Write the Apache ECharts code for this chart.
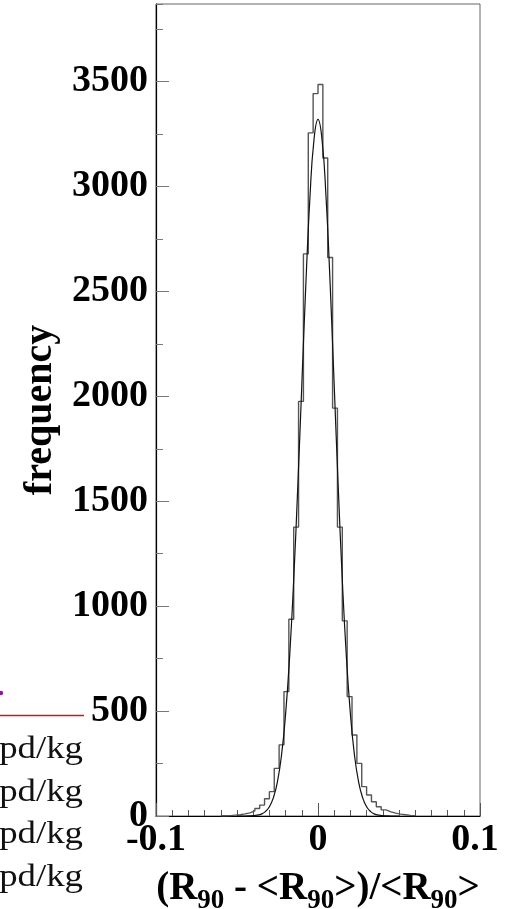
<!DOCTYPE html>
<html>
<head>
<meta charset="utf-8">
<script src="https://cdn.jsdelivr.net/npm/echarts@6/dist/echarts.min.js"></script>
<style>
  html, body { margin: 0; padding: 0; background: #ffffff; }
  #chart { width: 506px; height: 909px; }
</style>
</head>
<body>
<div id="chart"></div>
<script>
// Histogram of relative R90 deviation: bins of width 0.003 starting at -0.06
const binStart = -0.06;
const binWidth = 0.003;
const counts = [
  1, 2, 4, 6, 10, 15, 24, 36, 52, 82,
  116, 227, 339, 593, 938, 1377, 1976, 2679, 3256, 3443,
  3486, 3136, 2662, 1944, 1377, 930, 569, 386, 251, 140,
  100, 68, 44, 29, 20, 14, 9, 6, 3, 2
];

// Gaussian fit curve, sampled points
const fitX = [
  -0.05, -0.0475, -0.045, -0.0425, -0.04, -0.0375, -0.035, -0.0325, -0.03, -0.0275,
  -0.025, -0.0225, -0.02, -0.0175, -0.015, -0.0125, -0.01, -0.0075, -0.005, -0.0025,
  0,
  0.0025, 0.005, 0.0075, 0.01, 0.0125, 0.015, 0.0175, 0.02, 0.0225, 0.025,
  0.0275, 0.03, 0.0325, 0.035, 0.0375, 0.04, 0.0425, 0.045, 0.0475, 0.05
];
const fitY = [
  0, 0, 0, 0.5, 1.5, 4, 9, 21, 44, 88,
  165, 291, 486, 762, 1126, 1567, 2053, 2534, 2944, 3222,
  3320,
  3222, 2944, 2534, 2053, 1567, 1126, 762, 486, 291, 165,
  88, 44, 21, 9, 4, 1.5, 0.5, 0, 0, 0
];

// Axis ranges and tick spacing
const xRange = [-0.1, 0.1];
const xMajor = 0.1;
const yRange = [0, 3870];
const yMajor = 500;
const yMinor = 250;

// Labels of the neighbouring panel's legend, clipped at the left edge
const sideLabels = ['pd/kg', 'pd/kg', 'pd/kg', 'pd/kg'];

const histData = [];
for (let i = 0; i <= counts.length; i++) {
  const v = i < counts.length ? counts[i] : counts[counts.length - 1];
  histData.push([binStart + i * binWidth, v]);
}
const fitData = fitX.map((x, i) => [x, fitY[i]]);

const serif = "'Liberation Serif', 'DejaVu Serif', serif";

const chart = echarts.init(document.getElementById('chart'), null, { renderer: 'canvas' });

const sideRows = [750, 793, 835, 878];
const sideGraphics = sideLabels.map((t, i) => ({
  type: 'text',
  x: 83,
  y: sideRows[i],
  scaleX: 1.15,
  style: {
    text: t,
    fill: '#111',
    font: "32px " + serif,
    textAlign: 'right',
    textVerticalAlign: 'middle'
  }
}));

// Title text styles: main glyphs and lowered "90" subscripts
const titleMain = {
  fontFamily: serif,
  fontWeight: 'bold',
  fontSize: 39,
  lineHeight: 38,
  color: '#000'
};
const titleSub = {
  fontFamily: serif,
  fontWeight: 'bold',
  fontSize: 27,
  lineHeight: 26,
  padding: [24, 0, 0, 0],
  color: '#000'
};

chart.setOption({
  animation: false,
  backgroundColor: '#ffffff',
  grid: {
    left: 156, right: 26, top: 4, bottom: 93,
    show: true,
    borderColor: '#666',
    borderWidth: 1,
    backgroundColor: 'transparent',
    containLabel: false,
    outerBoundsMode: 'none'
  },
  graphic: [
    ...sideGraphics,
    {
      type: 'line',
      shape: { x1: 0, y1: 715.5, x2: 84, y2: 715.5 },
      style: { stroke: '#d21414', lineWidth: 1.5 }
    },
    {
      type: 'circle',
      shape: { cx: 1, cy: 693, r: 2.2 },
      style: { fill: '#8a1aa0' }
    }
  ],
  xAxis: {
    type: 'value',
    min: xRange[0],
    max: xRange[1],
    interval: xMajor,
    name: '{m|(R}{s|90}{m| - <R}{s|90}{m|>)/<R}{s|90}{m|>}',
    nameLocation: 'middle',
    nameGap: 42,
    nameTextStyle: {
      fontFamily: serif,
      fontWeight: 'bold',
      fontSize: 39,
      color: '#000',
      rich: { m: titleMain, s: titleSub }
    },
    axisLine: { show: true, onZero: false, lineStyle: { color: '#000', width: 1.2 } },
    axisTick: { show: true, inside: true, length: 13, lineStyle: { color: '#555', width: 1 } },
    minorTick: { show: true, splitNumber: 10, length: 6, lineStyle: { color: '#555', width: 1 } },
    splitLine: { show: false },
    minorSplitLine: { show: false },
    axisLabel: {
      margin: 5,
      hideOverlap: false,
      fontFamily: serif,
      fontWeight: 'bold',
      fontSize: 38,
      color: '#000',
      formatter: function (v) {
        if (Math.abs(v) < 1e-9) return '0';
        const s = String(+v.toFixed(1));
        return v > 0 ? '{r|' + s + '}' : s;
      },
      rich: {
        r: {
          fontFamily: serif,
          fontWeight: 'bold',
          fontSize: 38,
          color: '#000',
          padding: [0, 10, 0, 0]
        }
      }
    }
  },
  yAxis: [
    {
      type: 'value',
      min: yRange[0],
      max: yRange[1],
      interval: yMajor,
      name: 'frequency',
      nameLocation: 'middle',
      nameGap: 92,
      nameTextStyle: {
        fontFamily: serif,
        fontWeight: 'bold',
        fontSize: 40,
        color: '#000'
      },
      axisLine: { show: true, onZero: false, lineStyle: { color: '#000', width: 1.2 } },
      axisTick: { show: true, inside: true, length: 13, lineStyle: { color: '#777', width: 1 } },
      splitLine: { show: false },
      axisLabel: {
        margin: 8,
        hideOverlap: false,
        showMaxLabel: false,
        fontFamily: serif,
        fontWeight: 'bold',
        fontSize: 38,
        color: '#000',
        formatter: function (v) { return String(Math.round(v)); }
      }
    },
    {
      type: 'value',
      min: yRange[0],
      max: yRange[1],
      interval: yMinor,
      position: 'left',
      axisLine: { show: false, onZero: false },
      axisTick: { show: true, inside: true, length: 7, lineStyle: { color: '#777', width: 1 } },
      axisLabel: { show: false },
      splitLine: { show: false }
    }
  ],
  series: [
    {
      name: 'histogram',
      type: 'line',
      step: 'end',
      yAxisIndex: 0,
      data: histData,
      showSymbol: false,
      symbol: 'none',
      lineStyle: { color: '#555', width: 1.4 },
      z: 3
    },
    {
      name: 'fit',
      type: 'line',
      smooth: true,
      yAxisIndex: 0,
      data: fitData,
      showSymbol: false,
      symbol: 'none',
      lineStyle: { color: '#111', width: 1.2 },
      z: 4
    }
  ]
});
</script>
</body>
</html>
